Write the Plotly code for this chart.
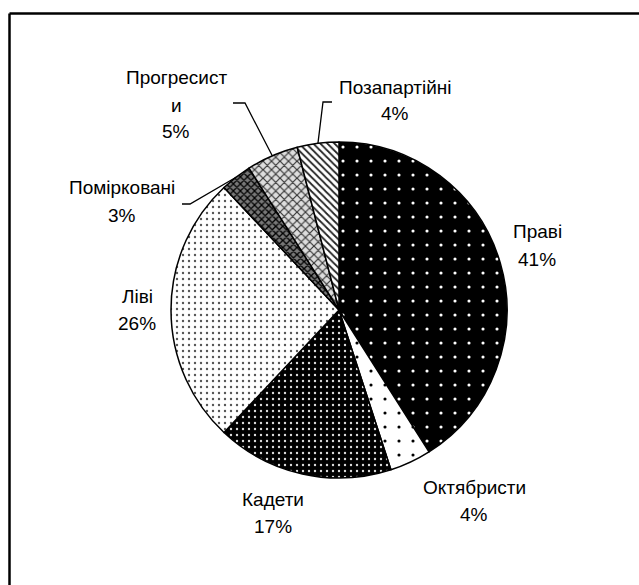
import math
import plotly.graph_objects as go

# ---- data ----
parties = ["Праві", "Октябристи", "Кадети", "Ліві", "Помірковані", "Прогресисти", "Позапартійні"]
label_lines = [["Праві"], ["Октябристи"], ["Кадети"], ["Ліві"], ["Помірковані"], ["Прогресист", "и"], ["Позапартійні"]]
shares = [41, 4, 17, 26, 3, 5, 4]

# ---- layout constants (pixels) ----
W, H = 639, 585
CX, CY, R = 339, 310, 168

def px(x):
    return x / W

def py(y):
    return 1 - y / H

patterns = [
    dict(shape=".", bgcolor="black", fgcolor="white", size=14, solidity=0.04),
    dict(shape=".", bgcolor="white", fgcolor="black", size=14, solidity=0.04),
    dict(shape=".", bgcolor="black", fgcolor="#dddddd", size=6, solidity=0.12),
    dict(shape=".", bgcolor="white", fgcolor="#555555", size=6, solidity=0.12),
    dict(shape="x", bgcolor="#777777", fgcolor="black", size=5, solidity=0.45),
    dict(shape="x", bgcolor="#dddddd", fgcolor="#333333", size=6, solidity=0.35),
    dict(shape="\\", bgcolor="white", fgcolor="#222222", size=5, solidity=0.35),
]

fig = go.Figure(go.Pie(
    labels=parties,
    values=shares,
    sort=False,
    direction="clockwise",
    rotation=0,
    textinfo="none",
    hoverinfo="label+percent",
    marker=dict(
        colors=["black", "white", "black", "white", "#777777", "white", "white"],
        line=dict(color="black", width=1.5),
        pattern=dict(
            shape=[p["shape"] for p in patterns],
            bgcolor=[p["bgcolor"] for p in patterns],
            fgcolor=[p["fgcolor"] for p in patterns],
            size=[p["size"] for p in patterns],
            solidity=[p["solidity"] for p in patterns],
            fillmode="replace",
        ),
    ),
    domain=dict(x=[px(CX - R), px(CX + R)], y=[py(CY + R), py(CY - R)]),
    showlegend=False,
))

# label anchor positions (pixel centers of first line) and line spacing
label_pos = [(537, 232), (474, 487), (273, 499), (137, 296), (122, 188), (176, 78), (395, 87)]
LINE_GAP = 27
FONT = dict(family="Liberation Sans, Arial, sans-serif", size=19, color="black")

annotations = []
for lines, share, (lx, ly) in zip(label_lines, shares, label_pos):
    all_lines = lines + [f"{share}%"]
    for i, t in enumerate(all_lines):
        annotations.append(dict(
            x=px(lx), y=py(ly + i * LINE_GAP), xref="paper", yref="paper",
            text=t, showarrow=False, font=FONT, xanchor="center", yanchor="middle",
        ))

# leader lines: from label tick to slice edge at slice mid-angle
leader_start = {4: [(182, 204), (190, 204)], 5: [(233, 103), (245, 103)], 6: [(332, 102), (323, 102)]}
total = sum(shares)
cum = 0
mid_angles = []
for v in shares:
    mid_angles.append((cum + v / 2) / total * 2 * math.pi)
    cum += v

shapes = []
for idx, pts in leader_start.items():
    a = mid_angles[idx]
    ex, ey = CX + R * math.sin(a), CY - R * math.cos(a)
    coords = pts + [(ex, ey)]
    path = "M " + " L ".join(f"{px(x):.5f},{py(y):.5f}" for x, y in coords)
    shapes.append(dict(type="path", path=path, xref="paper", yref="paper",
                       line=dict(color="black", width=1.3)))

# chart-area border (left and top visible)
shapes.append(dict(type="line", xref="paper", yref="paper", x0=px(9.5), x1=px(9.5), y0=py(13.5), y1=py(700),
                   line=dict(color="black", width=2.5)))
shapes.append(dict(type="line", xref="paper", yref="paper", x0=px(9.5), x1=px(700), y0=py(13.5), y1=py(13.5),
                   line=dict(color="black", width=2.5)))

fig.update_layout(
    width=W, height=H,
    margin=dict(l=0, r=0, t=0, b=0),
    paper_bgcolor="white",
    plot_bgcolor="white",
    annotations=annotations,
    shapes=shapes,
)

fig.write_html("out.html", config={"displayModeBar": False},
               post_script="document.body.style.margin='0';document.body.style.overflow='hidden';")
